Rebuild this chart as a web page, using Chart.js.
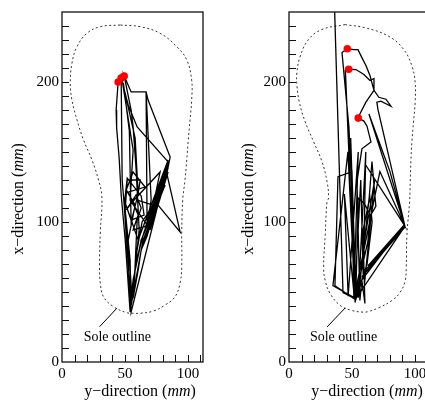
<!DOCTYPE html>
<html><head><meta charset="utf-8">
<script src="https://cdn.jsdelivr.net/npm/chart.js@4.4.1/dist/chart.umd.min.js"></script>
<style>
html,body{margin:0;padding:0;background:#fff;overflow:hidden;width:425px;height:400px;}
#w1{position:absolute;left:0;top:0;width:212px;height:400px;}
#w2{position:absolute;left:212px;top:0;width:230px;height:400px;}
canvas{display:block;}
</style></head><body>
<div id="w1"><canvas id="c1" width="212" height="400"></canvas></div>
<div id="w2"><canvas id="c2" width="230" height="400"></canvas></div>
<script>
// ---- tick labels ----
const xTickLabels = [0, 50, 100];
const yTickLabels = [0, 100, 200];

// ---- left panel ----
const leftPathX = [44.6,43.0,43.4,45.4,47.0,50.2,54.1,57.3,62.9,71.6,81.9,85.9,68.4,66.8,70.8,67.6,66.8,54.9,49.4,54.9,56.5,58.9,61.3,54.9,51.8,49.4,51.8,62.9,65.2,54.9,49.4,60.5,84.3,66.0,84.3,67.6,83.5,93.8,76.3,84.3,63.6,56.5,54.1,52.6,47.8,47.0,52.6,59.7,84.3,69.2,82.7,65.2,58.1,59.7,62.9,58.9,51.0,57.3,77.9,70.0,81.9,64.4,55.7,52.6,58.1,51.0,56.5,66.0,52.6,60.5,56.5,66.8,82.7,70.0,81.1,67.6,62.9,60.5,56.5,58.9,63.6,72.4,59.7,62.1,51.8,50.2,54.1,54.9,84.3,64.4,81.9,66.0,83.5,69.2,54.1,56.5,47.8,58.1,60.5,54.9,53.5,48.8];
const leftPathY = [200,180,167.1,145.7,119.3,87.1,35.7,62.1,87.1,105,128.6,146.4,187.1,192.9,115.7,97.9,192.9,192.9,204.3,180,167.9,137.1,94.3,40.7,80,112.1,131.4,118.6,105,101.4,115.7,87.1,144.3,95.7,138.6,92.9,133.6,92.9,112.1,135.7,88.6,58.6,35.7,76.4,130,202.9,183.6,167.9,142.9,97.1,137.1,92.9,69.3,101.4,110,119.3,108.6,115.7,135.7,101.4,126.4,87.1,44.3,87.1,112.1,122.9,135.7,125,121.4,105,94.3,97.1,135.7,94.3,131.4,90,80,65.7,45.7,76.4,100,112.1,115.7,130,130,108.6,72.9,35.7,141.4,83.6,130.7,87.1,139.3,95.7,115.7,151.4,201.4,160,120,100,165,199];
const leftStartX = [44.6,47.0,49.4];
const leftStartY = [200,202.9,204.3];
const leftOutlineX = [46.2,30.4,19.8,11.9,7.9,6.6,7.9,11.9,17.1,23.8,29.0,31.7,30.4,29.8,30.4,33.0,40.9,51.5,56.8,62.1,72.6,81.9,89.8,93.8,95.1,95.1,95.9,97.7,99.1,100.3,101.7,103.0,103.0,99.1,91.2,77.9,62.1,46.2];
const leftOutlineY = [240.7,239.5,234.8,225.2,213.4,199.1,187.1,172.9,158.6,144.3,130,118,92.1,68.1,56.4,46.6,39.5,35.2,34.8,34.8,36.4,40.7,46.6,56.4,68.1,92.1,115.7,130,144.3,158.6,172.9,187.1,201.4,215.7,225.2,234.8,239.5,240.7];
const leftLeaderX = [29.8,43.6];
const leftLeaderY = [25.2,38.4];
const leftLabelAt = [43.9,17.9];

// ---- right panel ----
const rightPathX = [35.6,42.9,52.4,44.8,47.4,53.2,59.5,64.3,67.5,67.5,71.4,77.0,81.0,73.0,69.8,70.6,92.1,60.3,92.1,57.9,92.1,62.7,91.3,56.3,53.2,50.0,47.6,42.1,46.3,51.6,54.8,57.9,61.1,64.3,67.5,61.1,56.3,55.0,59.5,61.9,65.1,57.9,54.0,56.3,57.9,60.3,58.7,63.5,65.9,69.0,64.3,62.7,52.4,46.8,34.9,53.2,50.0,38.9,36.5,51.6,72.2,92.1,80.2,63.5,92.1,60.3,92.1,53.2,49.0,51.5,55.0,47.0,44.0,52.0,57.0,59.0,61.0,55.0,64.0,66.0,62.0,53.0,55.0,60.3,64.3,62.9,60.3,57.7,60.3,58.7,68.0,60.0];
const rightPathY = [270.5,49.6,45.3,208.2,209.1,208.9,205.4,201.1,202.5,194.1,189.1,187.7,182.7,186.3,185.6,180.6,97.0,65.2,97.0,60.9,96.3,68.7,97.7,56.7,45.3,121.8,167.8,221.0,223.8,223.1,223.1,217.4,211.8,204.7,194.1,185.6,177.1,174.2,172.1,168.6,157.2,152.3,128.9,43.9,58.1,41.8,93.5,114.7,143.1,111.2,104.1,86.4,45.3,150.1,54.5,45.3,136.0,132.4,54.5,45.3,136.0,97.0,136.0,177.1,97.0,141.6,97.0,45.3,160,46,150,47,120,45,130,60,150,46,120,100,70,45,117.1,112.5,105.4,103.0,91.2,86.4,76.9,80,130,56];
const rightStartX = [46.3,47.4,55.0];
const rightStartY = [223.8,209.1,174.2];
const rightOutlineX = [44.7,26.2,15.6,9.0,6.3,6.3,8.2,12.9,19.6,26.2,30.2,31.5,30.2,28.8,27.5,28.8,32.8,40.7,50.0,59.3,63.3,71.2,81.7,88.3,92.3,93.1,93.7,95.8,96.3,96.8,97.6,98.9,100.2,100.2,97.6,91.0,79.1,60.6,44.7];
const rightOutlineY = [241.0,237.5,230.4,218.6,206.8,197.4,185.6,171.4,157.2,143.1,128.9,117.1,114.7,91.1,67.5,58.1,48.7,40.4,36.8,35.6,36.1,38.7,43.9,49.8,58.1,67.5,91.1,114.7,128.9,143.1,157.2,171.4,185.6,199.7,211.5,223.3,232.7,238.7,241.0];
const rightLeaderX = [30.2,44.7];
const rightLeaderY = [25.0,38.7];
const rightLabelAt = [43.3,17.5];

const FONT = "'Liberation Serif','Times New Roman',serif";
const pts = (xs, ys) => xs.map((x, i) => ({x: x, y: ys[i]}));

function drawMixed(ctx, parts, cx, cy, rotate) {
  const fonts = ['16px ' + FONT, 'italic 16px ' + FONT, '16px ' + FONT];
  const widths = parts.map((p, i) => { ctx.font = fonts[i]; return ctx.measureText(p).width; });
  const total = widths.reduce((a, b) => a + b, 0);
  ctx.save();
  ctx.translate(cx, cy);
  if (rotate) ctx.rotate(-Math.PI / 2);
  ctx.textAlign = 'left'; ctx.textBaseline = 'middle'; ctx.fillStyle = '#000';
  let xx = -total / 2;
  parts.forEach((p, i) => { ctx.font = fonts[i]; ctx.fillText(p, xx, 0); xx += widths[i]; });
  ctx.restore();
}

function decorPlugin(geo, labelAt) {
  return {
    id: 'decor',
    afterDatasetsDraw(chart) {
      const ctx = chart.ctx, a = chart.chartArea, xs = chart.scales.x, ys = chart.scales.y;
      ctx.save();
      ctx.strokeStyle = '#111';
      ctx.lineWidth = 1.3;
      ctx.strokeRect(a.left, a.top, a.right - a.left, a.bottom - a.top);
      ctx.lineWidth = 1;
      ctx.beginPath();
      for (let v = 10; v < 250; v += 10) {
        const py = Math.round(ys.getPixelForValue(v)) + 0.5;
        ctx.moveTo(a.left, py); ctx.lineTo(a.left + 7, py);
      }
      for (let v = 10; v <= 110; v += 10) {
        const px = Math.round(xs.getPixelForValue(v)) + 0.5;
        ctx.moveTo(px, a.bottom); ctx.lineTo(px, a.bottom - 7);
      }
      ctx.stroke();
      ctx.fillStyle = '#000';
      ctx.font = '14px ' + FONT;
      ctx.textAlign = 'center'; ctx.textBaseline = 'middle';
      ctx.fillText('Sole outline', xs.getPixelForValue(labelAt[0]), ys.getPixelForValue(labelAt[1]));
      ctx.restore();
      drawMixed(ctx, ['x\u2212direction (', 'mm', ')'], geo.yTitle[0], geo.yTitle[1], true);
      drawMixed(ctx, ['y\u2212direction (', 'mm', ')'], geo.xTitle[0], geo.xTitle[1], false);
    }
  };
}

function build(id, geo, d) {
  return new Chart(document.getElementById(id), {
    type: 'scatter',
    data: { datasets: [
      { data: pts(d.sx, d.sy), pointRadius: 3.8, pointBackgroundColor: '#ff0000', pointBorderWidth: 0, showLine: false, order: 0 },
      { data: pts(d.px, d.py), showLine: true, borderColor: '#000', borderWidth: 1.3, pointRadius: 0, tension: 0, order: 1 },
      { data: pts(d.lx, d.ly), showLine: true, borderColor: '#000', borderWidth: 1, pointRadius: 0, order: 2 },
      { data: pts(d.ox, d.oy), showLine: true, borderColor: '#333', borderWidth: 1, borderDash: [2, 2.5], pointRadius: 0, tension: 0.4, order: 3 }
    ]},
    options: {
      responsive: false, animation: false, devicePixelRatio: 1, events: [],
      layout: { padding: { top: geo.top, right: geo.right, left: 0, bottom: 0 } },
      plugins: { legend: { display: false }, tooltip: { enabled: false } },
      scales: {
        x: { type: 'linear', min: 0, max: 112,
             grid: { display: false, drawTicks: false }, border: { display: false },
             afterBuildTicks(s) { s.ticks = xTickLabels.map(v => ({ value: v })); },
             afterFit(s) { s.height = geo.bottomH; },
             ticks: { font: { family: FONT, size: 15 }, color: '#000', padding: 3, maxRotation: 0, autoSkip: false } },
        y: { type: 'linear', min: 0, max: 250,
             grid: { display: false, drawTicks: false }, border: { display: false },
             afterBuildTicks(s) { s.ticks = yTickLabels.map(v => ({ value: v })); },
             afterFit(s) { s.width = geo.leftW; },
             ticks: { font: { family: FONT, size: 15 }, color: '#000', padding: 3, autoSkip: false } }
      }
    },
    plugins: [decorPlugin(geo, d.label)]
  });
}

build('c1', { top: 12, right: 9, bottomH: 38, leftW: 62, yTitle: [19, 199], xTitle: [140, 391.5] },
  { px: leftPathX, py: leftPathY, sx: leftStartX, sy: leftStartY, ox: leftOutlineX, oy: leftOutlineY, lx: leftLeaderX, ly: leftLeaderY, label: leftLabelAt });
build('c2', { top: 9, right: 12, bottomH: 38, leftW: 77, yTitle: [37, 199], xTitle: [155, 391.5] },
  { px: rightPathX, py: rightPathY, sx: rightStartX, sy: rightStartY, ox: rightOutlineX, oy: rightOutlineY, lx: rightLeaderX, ly: rightLeaderY, label: rightLabelAt });
</script>
</body></html>
